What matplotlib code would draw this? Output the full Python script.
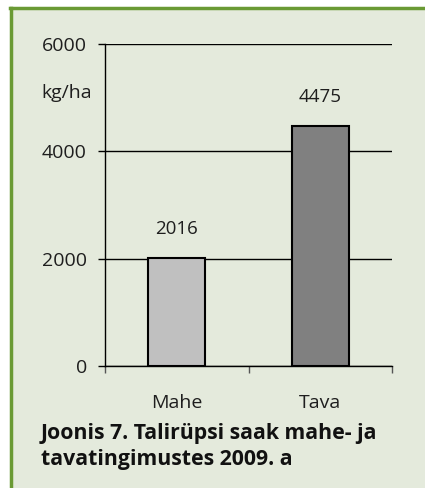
import matplotlib
matplotlib.use('Agg')
import matplotlib.pyplot as plt
from matplotlib.patches import Rectangle
from matplotlib.lines import Line2D

categories = ['Mahe', 'Tava']
values = [2016, 4475]
bar_colors = ['#c0c0c0', '#808080']
y_ticks = [0, 2000, 4000, 6000]
unit = 'kg/ha'
caption_lines = ['Joonis 7. Talirüpsi saak mahe- ja', 'tavatingimustes 2009. a']

plt.rcParams['font.family'] = ['Open Sans', 'DejaVu Sans']
bg = '#e4eadc'
green = '#6a9a34'
txt = '#1e1e1e'
H = 488

fig = plt.figure(figsize=(4.25, 4.88), dpi=100, facecolor='white')
# green box with border on top and left
fig.patches.append(Rectangle((10 / 425, 0), 1, 1 - 8 / H, transform=fig.transFigure,
                             facecolor=bg, edgecolor='none', zorder=-10))
fig.lines.append(Line2D([11 / 425, 11 / 425], [0, 1 - 8 / H], transform=fig.transFigure,
                        color=green, lw=2.5, zorder=-5))
fig.lines.append(Line2D([10 / 425, 1], [1 - 8 / H, 1 - 8 / H], transform=fig.transFigure,
                        color=green, lw=2.5, zorder=-5))

ax = fig.add_axes([105 / 425, 1 - 366 / H, 287 / 425, 322 / H])
ax.set_zorder(2)
ax.set_facecolor('none')
x = range(len(categories))
ax.bar(x, values, width=0.4, color=bar_colors, edgecolor='black', linewidth=1.5, zorder=3)
for xi, v in zip(x, values):
    ax.annotate(str(v), (xi, v), xytext=(0, 20.5), textcoords='offset points',
                ha='center', va='center', fontsize=13.5, color=txt)

ax.set_xlim(-0.5, 1.5)
ax.set_ylim(0, 6000)
ax.set_yticks(y_ticks)
ax.set_yticklabels([str(t) for t in y_ticks], fontsize=14, color=txt)
ax.yaxis.grid(True, color='black', linewidth=1, zorder=1)
ax.set_xticks([-0.5, 0.5, 1.5])
ax.set_xticklabels([])
ax.set_xticks(list(x), minor=True)
ax.set_xticklabels(categories, minor=True, fontsize=14, color=txt)
ax.tick_params(axis='x', which='major', direction='out', length=5, color='#555555', width=1)
ax.tick_params(axis='x', which='minor', length=0, pad=20)
ax.tick_params(axis='y', direction='out', length=5, width=1, pad=8)
for s in ['top', 'right']:
    ax.spines[s].set_visible(False)
ax.spines['left'].set_linewidth(1)
ax.spines['bottom'].set_linewidth(1)

fig.text(41 / 425, 1 - 98 / H, unit, fontsize=14, va='baseline', ha='left', color=txt)
for i, line in enumerate(caption_lines):
    fig.text(41 / 425, 1 - (439 + 26 * i) / H, line, fontsize=15.3, fontweight='bold',
             va='baseline', ha='left', color='#111111')

fig.savefig('out.png', dpi=100, facecolor=fig.get_facecolor())
